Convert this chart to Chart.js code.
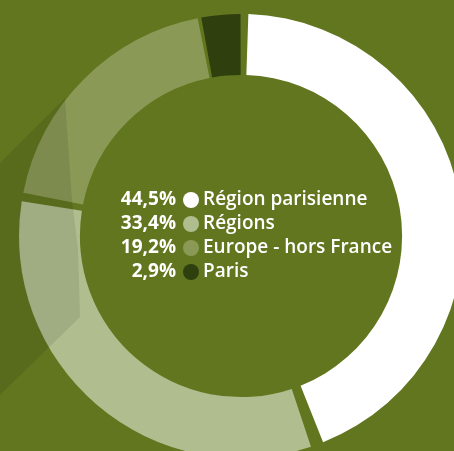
<!DOCTYPE html>
<html>
<head>
<meta charset="utf-8">
<script src="https://cdn.jsdelivr.net/npm/chart.js@4/dist/chart.umd.min.js"></script>
<style>
  html, body { margin: 0; padding: 0; background: #61761f; overflow: hidden; width: 454px; height: 451px; }
  #wrap { position: absolute; left: 0; top: 0; width: 482px; height: 472px; }
</style>
</head>
<body>
<div id="wrap"><canvas id="chart"></canvas></div>
<script>
// Répartition géographique
const categories = ['Région parisienne', 'Régions', 'Europe - hors France', 'Paris'];
const parts      = [44.5, 33.4, 19.2, 2.9];
const couleurs   = ['#ffffff', '#b0bd8e', '#8a9a56', '#2f3f0e'];

function formaterPct(v) {
  return v.toFixed(1).replace('.', ',') + '%';
}

// Ombre portée décorative à gauche de l'anneau
const ombrePlugin = {
  id: 'ombre',
  afterDatasetsDraw(chart) {
    const arc = chart.getDatasetMeta(0).data[0];
    if (!arc) return;
    const { x: cx, y: cy } = arc;
    const R = 222, r = 161; // rayons visibles (spacing compris)
    const k1 = cx + cy - R * Math.SQRT2;
    const k2 = cx + cy - 82;
    const ctx = chart.ctx;
    ctx.save();
    ctx.fillStyle = 'rgba(0, 0, 0, 0.09)';
    ctx.beginPath();
    ctx.moveTo(0, k1);
    ctx.lineTo(cx - 176, k1 - (cx - 176));
    ctx.lineTo(cx - 169, cy - 36);
    ctx.lineTo(cx - r - 2, cy + 14);
    ctx.lineTo(cx - r, cy + 81);
    ctx.lineTo(0, k2);
    ctx.closePath();
    ctx.fill();
    ctx.restore();
  },
};

// Légende au centre du donut
const legendeCentrePlugin = {
  id: 'legendeCentre',
  afterDraw(chart) {
    const arc = chart.getDatasetMeta(0).data[0];
    if (!arc) return;
    const { x: cx, y: cy } = arc;
    const ctx = chart.ctx;
    const labels = chart.data.labels;
    const valeurs = chart.data.datasets[0].data;
    const cols = chart.data.datasets[0].backgroundColor;
    const pas = 24;
    ctx.save();
    ctx.textBaseline = 'middle';
    labels.forEach((lab, i) => {
      const y = cy + (i - (labels.length - 1) / 2) * pas;
      ctx.font = 'bold 19px "Open Sans", sans-serif';
      ctx.fillStyle = '#ffffff';
      ctx.textAlign = 'right';
      ctx.fillText(formaterPct(valeurs[i]), cx - 65, y);
      ctx.beginPath();
      ctx.arc(cx - 50, y, 8, 0, Math.PI * 2);
      ctx.fillStyle = cols[i];
      ctx.fill();
      ctx.font = '600 19px "Open Sans", sans-serif';
      ctx.fillStyle = '#ffffff';
      ctx.textAlign = 'left';
      ctx.fillText(lab, cx - 38, y);
    });
    ctx.restore();
  },
};

new Chart(document.getElementById('chart'), {
  type: 'doughnut',
  data: {
    labels: categories,
    datasets: [{
      data: parts,
      backgroundColor: couleurs,
      borderWidth: 0,
      spacing: 9,
    }],
  },
  options: {
    responsive: true,
    maintainAspectRatio: false,
    animation: false,
    radius: 217.5,
    cutout: '72%',
    plugins: {
      legend: { display: false },
      tooltip: { enabled: false },
    },
  },
  plugins: [ombrePlugin, legendeCentrePlugin],
});
</script>
</body>
</html>
